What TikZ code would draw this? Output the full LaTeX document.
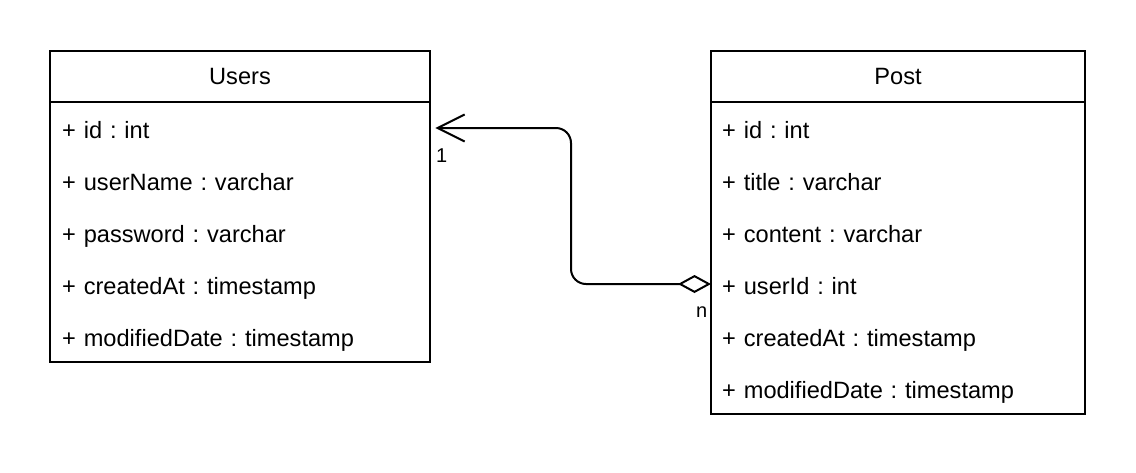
\documentclass[tikz,border=0pt]{standalone}
\usepackage{fontspec}
\setmainfont{Liberation Sans}
\usetikzlibrary{arrows.meta}
\frenchspacing
\begin{document}
\begin{tikzpicture}[x=1pt,y=-1pt,
  every node/.style={font=\fontsize{23.6}{28}\selectfont},
  frame/.style={draw, line width=1.6pt, inner sep=0pt, outer sep=0pt, anchor=north west},
  ucls/.style={frame, minimum width=380pt},
  pcls/.style={frame, minimum width=374pt},
  urow/.style={anchor=west, inner ysep=0pt, inner xsep=12pt, text width=356pt,
               align=left, minimum height=52pt, text height=24pt, text depth=4pt},
  prow/.style={urow, inner xsep=11pt, text width=352pt},
  mult/.style={font=\fontsize{20}{24}\selectfont, anchor=base west, inner sep=0pt},
  link/.style={line width=2pt, rounded corners=15pt},
]
\useasboundingbox (0,0) rectangle (1136,472);

% Users class
\node[ucls, minimum height=51pt] (uHead) at (50,51) {Users};
\node[ucls, minimum height=260pt] (uBody) at (uHead.south west) {};
\node[urow] (uId)   at (50,128) {+ id : int};
\node[urow] (uName) at (50,180) {+ userName : varchar};
\node[urow] (uPass) at (50,232) {+ password : varchar};
\node[urow] (uCre)  at (50,284) {+ createdAt : timestamp};
\node[urow] (uMod)  at (50,336) {+ modifiedDate : timestamp};

% Post class
\node[pcls, minimum height=51pt] (pHead) at (711,51) {Post};
\node[pcls, minimum height=312pt] (pBody) at (pHead.south west) {};
\node[prow] (pId)      at (711,128) {+ id : int};
\node[prow] (pTitle)   at (711,180) {+ title : varchar};
\node[prow] (pContent) at (711,232) {+ content : varchar};
\node[prow] (pUser)    at (711,284) {+ userId : int};
\node[prow] (pCre)     at (711,336) {+ createdAt : timestamp};
\node[prow] (pMod)     at (711,388) {+ modifiedDate : timestamp};

% aggregation: Post.userId -> Users.id
\coordinate (bend) at (571,0);
\draw[link, {Diamond[open, length=33pt, width=18pt, line width=2pt]}-{Straight Barb[length=27pt, width=27pt, line width=2pt]}, shorten >=5pt]
  (pUser.west) -- (bend |- pUser.west) -- (bend |- uId.east) -- (uId.east);

\node[mult] (mOne) at (436,162) {1};
\node[mult] (mN)   at (696,317) {n};
\end{tikzpicture}
\end{document}
